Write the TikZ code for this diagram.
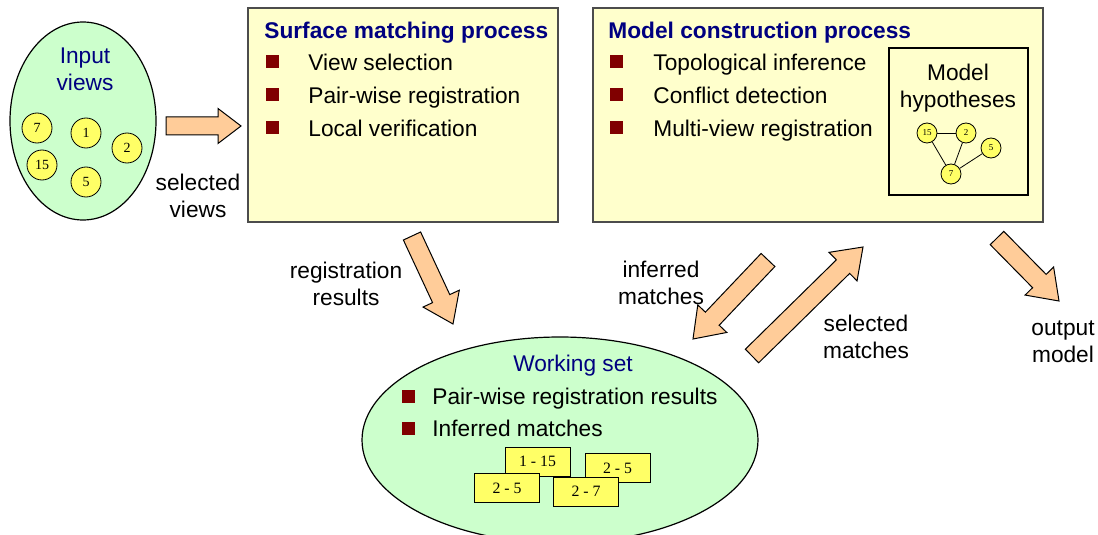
\documentclass[tikz,border=0pt]{standalone}
\usepackage{fontspec}
\setmainfont{Liberation Sans}
\newfontfamily\numfont{Liberation Serif}
\usetikzlibrary{
calc,
graphs,
shapes.geometric,
}
\definecolor{setgreen}{HTML}{CCFFCC}
\definecolor{boxyellow}{HTML}{FFFFCC}
\definecolor{viewyellow}{HTML}{FFFF66}
\definecolor{arrowpeach}{HTML}{FFCC99}
\definecolor{titlenavy}{HTML}{000080}
\definecolor{bulletred}{HTML}{800000}
\tikzset{
every node/.style={align=center, inner sep=0pt, font=\fontsize{11.35}{13.5}\selectfont},
set/.style={ellipse, draw, fill=setgreen, line width=0.6pt},
process/.style={rectangle, draw=black!70, fill=boxyellow, line width=0.6pt},
hypbox/.style={rectangle, draw, line width=0.6pt},
title/.style={anchor=mid west, text=titlenavy, font=\fontsize{11.35}{13.5}\selectfont\bfseries},
item/.style={anchor=mid west},
bullet/.style={rectangle, fill=bulletred, minimum size=6.5pt},
view/.style={circle, draw, fill=viewyellow, minimum size=15pt, font=\fontsize{7}{8}\numfont},
hyp/.style={circle, draw, fill=viewyellow, minimum size=10pt, font=\fontsize{4.5}{5}\numfont},
match/.style={rectangle, draw, fill=viewyellow, minimum width=32.5pt, minimum height=14.5pt, font=\fontsize{7.9}{9}\numfont},
fat/.style={draw, fill=arrowpeach, line width=0.5pt},
}
% block arrow: tail, tip, shaft half width, head half width, head length
\newcommand\fatarrow[5]{%
  \coordinate (neck) at ($(#2)!#5!(#1)$);
  \draw[fat] ($(#1)!#3!90:(#2)$) -- ($(neck)!#3!90:(#2)$) -- ($(neck)!#4!90:(#2)$)
    -- (#2) -- ($(neck)!#4!-90:(#2)$) -- ($(neck)!#3!-90:(#2)$) -- ($(#1)!#3!-90:(#2)$) -- cycle;
}

\begin{document}
\begin{tikzpicture}[x=0.5pt, y=-0.5pt]
\useasboundingbox (0,0) rectangle (1098,535);

% input views
\node (input) [set, minimum width=73pt, minimum height=99pt] at (83,121) {};
\node (inlabel) [text=titlenavy] at (85,69) {Input\\views};
\node (v7) [view] at (37,128) {7};
\node (v1) [view] at (86,133) {1};
\node (v2) [view] at (127,148) {2};
\node (v15) [view] at (42,165) {15};
\node (v5) [view] at (86,182) {5};
\node (selviews) at (198,196) {selected\\views};

% surface matching
\node (smp) [process, minimum width=155pt, minimum height=107pt] at (403,115) {};
\node (smtitle) [title] at (264,33) {Surface matching process};
\foreach \txt [count=\i] in {View selection, Pair-wise registration, Local verification}{
  \node (smb\i) [bullet] at (272.5,29+33*\i) {};
  \node (smi\i) [item] at (308,32+33*\i) {\txt};
}

% model construction
\node (mcp) [process, minimum width=225pt, minimum height=107pt] at (818,115) {};
\node (mctitle) [title] at (608,33) {Model construction process};
\foreach \txt [count=\i] in {Topological inference, Conflict detection, Multi-view registration}{
  \node (mcb\i) [bullet] at (616.5,29+33*\i) {};
  \node (mci\i) [item] at (653,32+33*\i) {\txt};
}
\node (hypo) [hypbox, minimum width=69.5pt, minimum height=73.5pt] at (958.5,121.5) {};
\node (hyplabel) at (958,88) {Model\\hypotheses};
\node (h15) [hyp] at (927,133) {15};
\node (h2) [hyp] at (966,133) {2};
\node (h5) [hyp] at (991,148) {5};
\node (h7) [hyp] at (951,174) {7};
\graph [use existing nodes] {
  h15 -- h2 -- h7 -- h15;
  h5 -- h7;
};

% working set
\node (work) [set, minimum width=198pt, minimum height=103pt] at (560,440) {};
\node (worklabel) [text=titlenavy] at (573,366) {Working set};
\foreach \txt [count=\i] in {Pair-wise registration results, Inferred matches}{
  \node (wsb\i) [bullet] at (408.5,364+32*\i) {};
  \node (wsi\i) [item] at (432,367+32*\i) {\txt};
}
\node (m1) [match] at (537.5,461.5) {1 - 15};
\node (m2) [match] at (617.5,468) {2 - 5};
\node (m3) [match] at (507,488) {2 - 5};
\node (m4) [match] at (586,491.5) {2 - 7};

% arrows and their labels
\coordinate (vwTail) at (166,126);
\coordinate (vwTip) at (241,126);
\coordinate (regTail) at (412,236);
\coordinate (regTip) at (453,324);
\coordinate (infTail) at (768,260);
\coordinate (infTip) at (693,339);
\coordinate (selTail) at (752,356);
\coordinate (selTip) at (863,247);
\coordinate (outTail) at (997,238);
\coordinate (outTip) at (1059,301);
\fatarrow{vwTail}{vwTip}{4.5pt}{8.75pt}{11.5pt}
\fatarrow{regTail}{regTip}{4.75pt}{10pt}{14pt}
\fatarrow{infTail}{infTip}{4.75pt}{10pt}{14pt}
\fatarrow{selTail}{selTip}{4.75pt}{10pt}{14pt}
\fatarrow{outTail}{outTip}{4.75pt}{10pt}{14pt}
\node (reglabel) at (346,284) {registration\\results};
\node (inflabel) at (661,283) {inferred\\matches};
\node (sellabel) at (866,337) {selected\\matches};
\node (outlabel) at (1063,342) {output\\model};
\end{tikzpicture}
\end{document}
